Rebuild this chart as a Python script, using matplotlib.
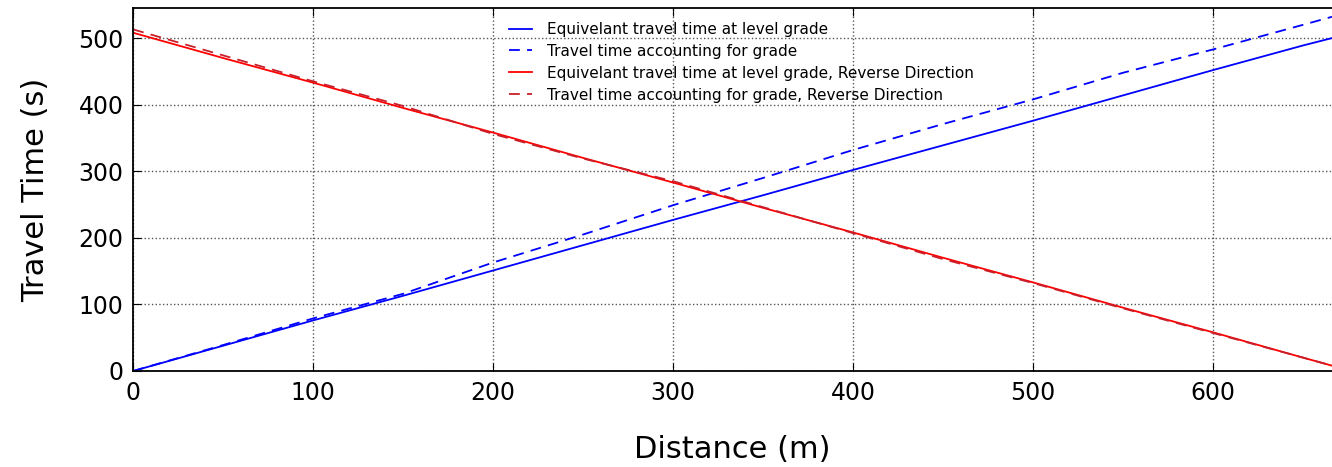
import matplotlib.pyplot as plt
import numpy as np

distance = [0, 50, 100, 150, 200, 250, 300, 350, 400, 450, 500, 550, 600, 650, 666]
level_fwd = [0, 38, 76, 113, 151, 189, 227, 264, 302, 339, 376, 414, 452, 489, 500]
grade_fwd = [0, 39, 79, 116, 163, 205, 249, 290, 332, 371, 408, 448, 483, 520, 532]
level_rev = [508, 470, 433, 395, 358, 320, 283, 245, 208, 170, 133, 95, 58, 20, 8]
grade_rev = [513, 474, 435, 398, 356, 319, 285, 246, 207, 168, 132, 94, 57, 20, 8]

fig = plt.figure(figsize=(13.32, 4.67), dpi=100)
ax = fig.add_axes([0.1, 0.2056, 0.9, 0.777])

ax.plot(distance, level_fwd, color='blue', lw=1.3,
        label='Equivelant travel time at level grade')
ax.plot(distance, grade_fwd, color='blue', lw=1.3, ls=(0, (6, 4)),
        label='Travel time accounting for grade')
ax.plot(distance, level_rev, color='red', lw=1.3,
        label='Equivelant travel time at level grade, Reverse Direction')
ax.plot(distance, grade_rev, color='#c8202a', lw=1.3, ls=(0, (6, 4)),
        label='Travel time accounting for grade, Reverse Direction')

ax.set_xlim(0, 666)
ax.set_ylim(0, 545)
ax.set_xticks([0, 100, 200, 300, 400, 500, 600])
ax.set_yticks([0, 100, 200, 300, 400, 500])
ax.grid(True, ls=':', color='#555555', lw=1)
ax.tick_params(direction='in', labelsize=17, length=6, top=True, right=False, pad=7)
for s in ax.spines.values():
    s.set_linewidth(1.3)
ax.spines['right'].set_visible(False)
ax.set_xlabel('Distance (m)', fontsize=22, labelpad=22)
ax.set_ylabel('Travel Time (s)', fontsize=22, labelpad=20)

ax.legend(loc='upper left', bbox_to_anchor=(0.302, 1.0), frameon=False,
          fontsize=11, handlelength=1.5, handletextpad=1.0, labelspacing=0.45)

fig.savefig('out.png')
